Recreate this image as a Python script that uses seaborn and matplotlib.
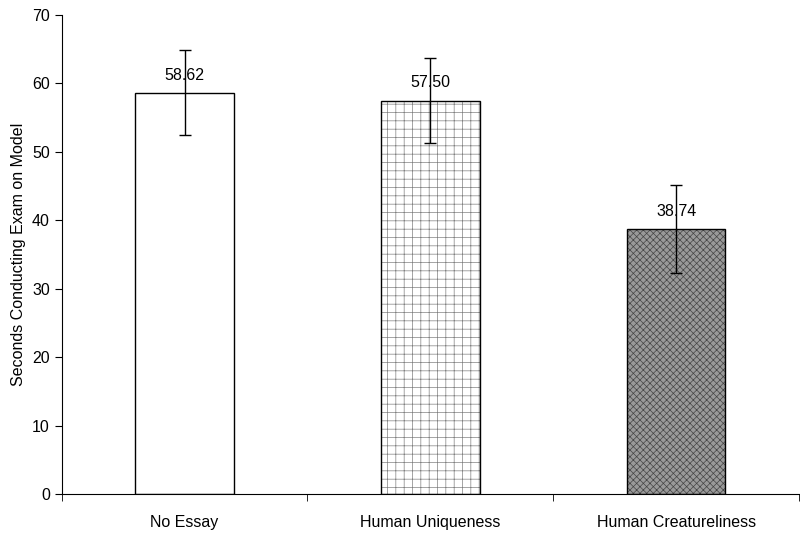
import pandas as pd
import numpy as np

import matplotlib
matplotlib.use("Agg")
import matplotlib.pyplot as plt
import seaborn as sns

sns.set_style("ticks", {"text.color": "black", "axes.labelcolor": "black",
                        "xtick.color": "black", "ytick.color": "black",
                        "axes.edgecolor": "black"})
plt.rcParams['font.family'] = ['Liberation Sans', 'DejaVu Sans']
plt.rcParams['font.size'] = 11.5
plt.rcParams['hatch.linewidth'] = 0.5

# Condition means and standard errors
conditions = ["No Essay", "Human Uniqueness", "Human Creatureliness"]
means = [58.62, 57.50, 38.74]
errors = [6.2, 6.2, 6.4]
value_labels = ["58.62", "57.50", "38.74"]

df = pd.DataFrame({"condition": conditions, "seconds": means})

fig = plt.figure(figsize=(8, 5.36), dpi=100)
ax = fig.add_axes([0.077, 0.078, 0.922, 0.894])

sns.barplot(data=df, x="condition", y="seconds", order=conditions,
            errorbar=None, width=0.4, color="white", edgecolor="black",
            linewidth=1, ax=ax)

# Fill styles: plain, light dotted grid, grey checker
styles = [("white", None, "black"),
          ("white", "++", "#808080"),
          ("#999999", "xxxxx", "#454545")]
for bar, (fc, hatch, hc) in zip(ax.patches, styles):
    bar.set_facecolor(fc)
    bar.set_edgecolor("black")
    if hatch:
        bar.set_hatch(hatch)
        bar._hatch_color = matplotlib.colors.to_rgba(hc)

xpos = np.arange(len(conditions))
ax.errorbar(xpos, means, yerr=errors, fmt="none", ecolor="black",
            elinewidth=1, capsize=4, capthick=1, zorder=5)

for x, m, lab in zip(xpos, means, value_labels):
    ax.text(x, m + 1.5, lab, ha="center", va="bottom", zorder=4)

ax.set_xlim(-0.5, 2.5)
ax.set_ylim(0, 70)
ax.set_yticks(range(0, 71, 10))
ax.set_xticks(xpos)
ax.set_xticks([-0.5, 0.5, 1.5, 2.5], minor=True)
ax.tick_params(axis="x", which="major", length=0, pad=15, labelsize=11.5)
ax.tick_params(axis="x", which="minor", length=5, direction="out")
ax.tick_params(axis="y", length=5, direction="out", labelsize=11.5)
ax.set_xlabel("")
ax.set_ylabel("Seconds Conducting Exam on Model")
sns.despine(ax=ax)

fig.savefig("out.png", dpi=100)
